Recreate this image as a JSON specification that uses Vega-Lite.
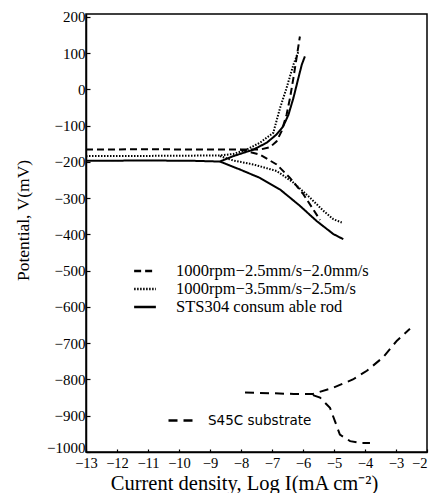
{
  "$schema": "https://vega.github.io/schema/vega-lite/v6.json",
  "autosize": "none",
  "width": 341,
  "height": 438,
  "padding": {"left": 86, "top": 14, "right": 5, "bottom": 41},
  "background": "white",
  "config": {
    "view": {"stroke": "black", "strokeWidth": 1.5},
    "font": "Liberation Serif",
    "axis": {
      "grid": false,
      "domainColor": "black",
      "domainWidth": 1.5,
      "tickColor": "black",
      "tickWidth": 1.2,
      "labelColor": "black",
      "titleColor": "black",
      "labelFont": "Liberation Serif",
      "titleFont": "Liberation Serif",
      "labelFontSize": 15,
      "labelOverlap": false,
      "labelBound": false,
      "labelFlush": false,
      "titleFontSize": 18,
      "titleFontWeight": "normal"
    },
    "legend": {
      "labelFont": "Liberation Serif",
      "labelFontSize": 16.5,
      "labelColor": "black",
      "labelLimit": 0,
      "symbolType": "M-1.45,0H1.45",
      "symbolStrokeColor": "black",
      "symbolFillColor": "transparent",
      "symbolStrokeWidth": 2.5,
      "symbolSize": 225,
      "labelOffset": 22,
      "rowPadding": 0,
      "title": null
    }
  },
  "datasets": {
    "main": [
      {"s": "1000rpm−2.5mm/s−2.0mm/s", "b": "a", "x": -13, "y": -166},
      {"s": "1000rpm−2.5mm/s−2.0mm/s", "b": "a", "x": -11, "y": -165},
      {"s": "1000rpm−2.5mm/s−2.0mm/s", "b": "a", "x": -9, "y": -166},
      {"s": "1000rpm−2.5mm/s−2.0mm/s", "b": "a", "x": -8.03, "y": -166},
      {"s": "1000rpm−2.5mm/s−2.0mm/s", "b": "a", "x": -7.39, "y": -166},
      {"s": "1000rpm−2.5mm/s−2.0mm/s", "b": "a", "x": -7.06, "y": -159},
      {"s": "1000rpm−2.5mm/s−2.0mm/s", "b": "a", "x": -6.85, "y": -143},
      {"s": "1000rpm−2.5mm/s−2.0mm/s", "b": "a", "x": -6.69, "y": -115},
      {"s": "1000rpm−2.5mm/s−2.0mm/s", "b": "a", "x": -6.53, "y": -70},
      {"s": "1000rpm−2.5mm/s−2.0mm/s", "b": "a", "x": -6.42, "y": -24},
      {"s": "1000rpm−2.5mm/s−2.0mm/s", "b": "a", "x": -6.31, "y": 31},
      {"s": "1000rpm−2.5mm/s−2.0mm/s", "b": "a", "x": -6.21, "y": 86},
      {"s": "1000rpm−2.5mm/s−2.0mm/s", "b": "a", "x": -6.1, "y": 146},
      {"s": "1000rpm−2.5mm/s−2.0mm/s", "b": "c", "x": -8.03, "y": -166},
      {"s": "1000rpm−2.5mm/s−2.0mm/s", "b": "c", "x": -7.39, "y": -180},
      {"s": "1000rpm−2.5mm/s−2.0mm/s", "b": "c", "x": -6.85, "y": -207},
      {"s": "1000rpm−2.5mm/s−2.0mm/s", "b": "c", "x": -6.42, "y": -244},
      {"s": "1000rpm−2.5mm/s−2.0mm/s", "b": "c", "x": -5.99, "y": -289},
      {"s": "1000rpm−2.5mm/s−2.0mm/s", "b": "c", "x": -5.67, "y": -331},
      {"s": "1000rpm−2.5mm/s−2.0mm/s", "b": "c", "x": -5.45, "y": -360},

      {"s": "1000rpm−3.5mm/s−2.5m/s", "b": "a", "x": -13, "y": -184},
      {"s": "1000rpm−3.5mm/s−2.5m/s", "b": "a", "x": -10, "y": -183},
      {"s": "1000rpm−3.5mm/s−2.5m/s", "b": "a", "x": -8.68, "y": -182},
      {"s": "1000rpm−3.5mm/s−2.5m/s", "b": "a", "x": -8.25, "y": -178},
      {"s": "1000rpm−3.5mm/s−2.5m/s", "b": "a", "x": -7.82, "y": -166},
      {"s": "1000rpm−3.5mm/s−2.5m/s", "b": "a", "x": -7.39, "y": -147},
      {"s": "1000rpm−3.5mm/s−2.5m/s", "b": "a", "x": -6.96, "y": -120},
      {"s": "1000rpm−3.5mm/s−2.5m/s", "b": "a", "x": -6.74, "y": -51},
      {"s": "1000rpm−3.5mm/s−2.5m/s", "b": "a", "x": -6.53, "y": 4},
      {"s": "1000rpm−3.5mm/s−2.5m/s", "b": "a", "x": -6.31, "y": 68},
      {"s": "1000rpm−3.5mm/s−2.5m/s", "b": "a", "x": -6.15, "y": 104},
      {"s": "1000rpm−3.5mm/s−2.5m/s", "b": "c", "x": -8.68, "y": -184},
      {"s": "1000rpm−3.5mm/s−2.5m/s", "b": "c", "x": -8.25, "y": -196},
      {"s": "1000rpm−3.5mm/s−2.5m/s", "b": "c", "x": -7.6, "y": -207},
      {"s": "1000rpm−3.5mm/s−2.5m/s", "b": "c", "x": -6.85, "y": -225},
      {"s": "1000rpm−3.5mm/s−2.5m/s", "b": "c", "x": -6.31, "y": -257},
      {"s": "1000rpm−3.5mm/s−2.5m/s", "b": "c", "x": -5.77, "y": -299},
      {"s": "1000rpm−3.5mm/s−2.5m/s", "b": "c", "x": -5.34, "y": -335},
      {"s": "1000rpm−3.5mm/s−2.5m/s", "b": "c", "x": -5.02, "y": -358},
      {"s": "1000rpm−3.5mm/s−2.5m/s", "b": "c", "x": -4.75, "y": -367},

      {"s": "STS304 consum able rod", "b": "a", "x": -13, "y": -197},
      {"s": "STS304 consum able rod", "b": "a", "x": -11, "y": -196},
      {"s": "STS304 consum able rod", "b": "a", "x": -9.5, "y": -197},
      {"s": "STS304 consum able rod", "b": "a", "x": -8.68, "y": -199},
      {"s": "STS304 consum able rod", "b": "a", "x": -8.25, "y": -184},
      {"s": "STS304 consum able rod", "b": "a", "x": -7.6, "y": -166},
      {"s": "STS304 consum able rod", "b": "a", "x": -7.17, "y": -147},
      {"s": "STS304 consum able rod", "b": "a", "x": -6.85, "y": -124},
      {"s": "STS304 consum able rod", "b": "a", "x": -6.64, "y": -102},
      {"s": "STS304 consum able rod", "b": "a", "x": -6.47, "y": -70},
      {"s": "STS304 consum able rod", "b": "a", "x": -6.31, "y": -24},
      {"s": "STS304 consum able rod", "b": "a", "x": -6.15, "y": 31},
      {"s": "STS304 consum able rod", "b": "a", "x": -6.04, "y": 68},
      {"s": "STS304 consum able rod", "b": "a", "x": -5.94, "y": 91},
      {"s": "STS304 consum able rod", "b": "c", "x": -8.68, "y": -199},
      {"s": "STS304 consum able rod", "b": "c", "x": -8.03, "y": -221},
      {"s": "STS304 consum able rod", "b": "c", "x": -7.39, "y": -244},
      {"s": "STS304 consum able rod", "b": "c", "x": -6.74, "y": -276},
      {"s": "STS304 consum able rod", "b": "c", "x": -6.1, "y": -321},
      {"s": "STS304 consum able rod", "b": "c", "x": -5.56, "y": -363},
      {"s": "STS304 consum able rod", "b": "c", "x": -5.02, "y": -399},
      {"s": "STS304 consum able rod", "b": "c", "x": -4.7, "y": -413}
    ],
    "sub": [
      {"s": "S45C substrate", "b": "a", "x": -7.87, "y": -836},
      {"s": "S45C substrate", "b": "a", "x": -7.0, "y": -838},
      {"s": "S45C substrate", "b": "a", "x": -6.3, "y": -840},
      {"s": "S45C substrate", "b": "a", "x": -5.68, "y": -840},
      {"s": "S45C substrate", "b": "a", "x": -5.03, "y": -823},
      {"s": "S45C substrate", "b": "a", "x": -4.39, "y": -800},
      {"s": "S45C substrate", "b": "a", "x": -3.94, "y": -776},
      {"s": "S45C substrate", "b": "a", "x": -3.42, "y": -739},
      {"s": "S45C substrate", "b": "a", "x": -2.97, "y": -693},
      {"s": "S45C substrate", "b": "a", "x": -2.55, "y": -660},
      {"s": "S45C substrate", "b": "c", "x": -5.68, "y": -843},
      {"s": "S45C substrate", "b": "c", "x": -5.45, "y": -850},
      {"s": "S45C substrate", "b": "c", "x": -5.13, "y": -878},
      {"s": "S45C substrate", "b": "c", "x": -4.97, "y": -915},
      {"s": "S45C substrate", "b": "c", "x": -4.81, "y": -952},
      {"s": "S45C substrate", "b": "c", "x": -4.48, "y": -970},
      {"s": "S45C substrate", "b": "c", "x": -4.16, "y": -975},
      {"s": "S45C substrate", "b": "c", "x": -3.84, "y": -975}
    ]
  },
  "encoding": {
    "x": {
      "field": "x", "type": "quantitative",
      "scale": {"domain": [-13, -2], "nice": false},
      "axis": {
        "values": [-13, -12, -11, -10, -9, -8, -7, -6, -5, -4, -3, -2],
        "format": "d",
        "tickSize": -3,
        "labelPadding": 7,
        "labelFontSize": 14.5,
        "labelAlign": {"condition": {"test": "datum.value == -2", "value": "right"}, "value": "center"},
        "title": "Current density, Log I(mA cm⁻²)",
        "titleFontSize": 20.5,
        "titleX": 158,
        "titleY": 37,
        "titleBaseline": "alphabetic"
      }
    },
    "y": {
      "field": "y", "type": "quantitative",
      "scale": {"domain": [-1000, 208], "nice": false},
      "axis": {
        "values": [-1000, -900, -800, -700, -600, -500, -400, -300, -200, -100, 0, 100, 200],
        "format": "d",
        "tickSize": -4,
        "labelPadding": 5,
        "labelBaseline": {"condition": {"test": "datum.value == -1000", "value": "alphabetic"}, "value": "middle"},
        "title": "Potential, V(mV)",
        "titleFontSize": 17.5,
        "titleX": -58,
        "titleY": 206,
        "titleBaseline": "alphabetic"
      }
    }
  },
  "layer": [
    {
      "data": {"name": "main"},
      "mark": {"type": "line", "color": "black", "strokeWidth": 2},
      "encoding": {
        "detail": {"field": "b"},
        "strokeDash": {
          "field": "s", "type": "nominal",
          "scale": {
            "domain": ["1000rpm−2.5mm/s−2.0mm/s", "1000rpm−3.5mm/s−2.5m/s", "STS304 consum able rod"],
            "range": [[7, 4], [1.5, 1.5], [1, 0]]
          },
          "legend": {
            "orient": "none", "legendX": 50, "legendY": 248,
            "labelFont": "Liberation Serif", "labelFontSize": 16.5
          }
        }
      }
    },
    {
      "data": {"name": "sub"},
      "mark": {"type": "line", "color": "black", "strokeWidth": 2},
      "encoding": {
        "detail": {"field": "b"},
        "strokeDash": {
          "field": "s", "type": "nominal",
          "scale": {"domain": ["S45C substrate"], "range": [[9, 6]]},
          "legend": {
            "orient": "none", "legendX": 81, "legendY": 393,
            "symbolType": "stroke",
            "symbolSize": 576, "labelOffset": 14,
            "labelFont": "DejaVu Sans", "labelFontSize": 13.5
          }
        }
      }
    }
  ],
  "resolve": {"scale": {"strokeDash": "independent"}, "legend": {"strokeDash": "independent"}}
}
